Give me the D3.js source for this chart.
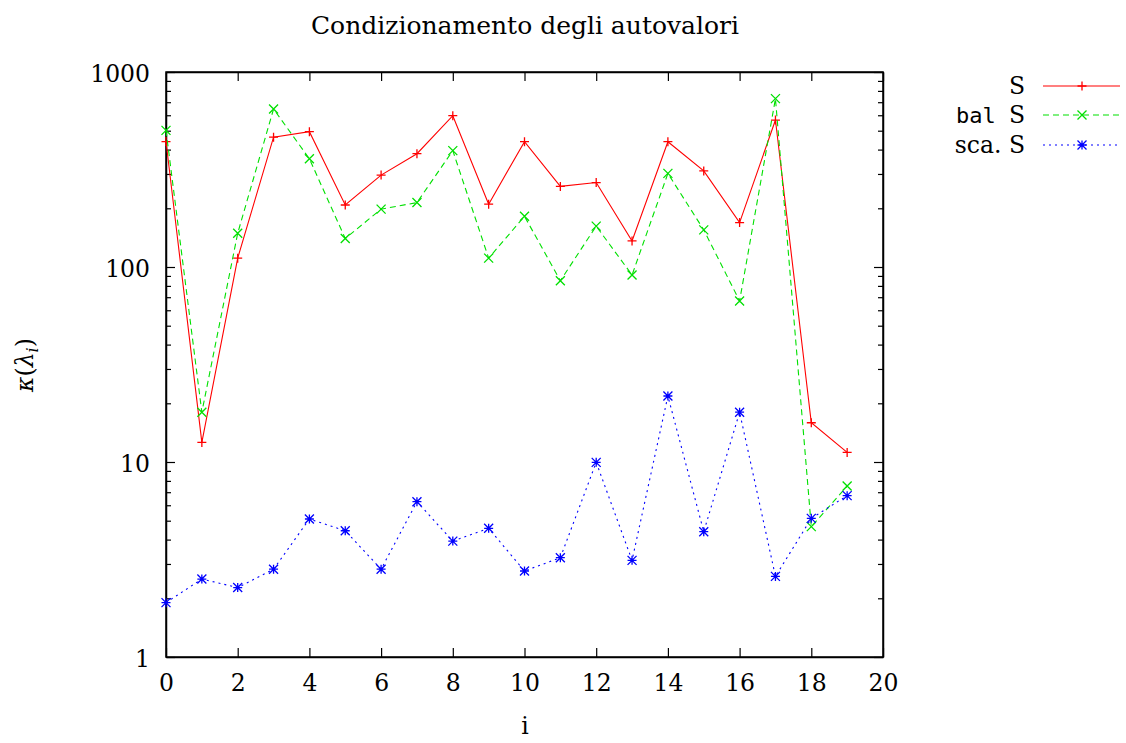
<!DOCTYPE html>
<html lang="it">
<head>
<meta charset="UTF-8">
<title>Condizionamento degli autovalori</title>
<script src="https://cdn.jsdelivr.net/npm/d3@7"></script>
<style>
  body { margin: 0; background: #fff; }
  .axis path, .axis line { stroke: #000; }
  .axis .domain { stroke-width: 1.5; }
  .axis line { stroke-width: 1.2; }
</style>
</head>
<body>
<svg width="1126" height="743"></svg>
<script>
// indici degli autovalori
var idx = d3.range(0, 20);
// kappa(lambda_i) per S, bal S, sca. S
var valS    = [440, 12.6, 111, 463, 494, 208, 296, 381, 597, 210, 439, 259, 271, 136, 439, 311, 169, 567, 15.9, 11.2];
var valBal  = [502, 18.0, 149, 646, 359, 140, 198, 214, 395, 111, 182, 85, 162, 91, 302, 155, 67, 730, 4.66, 7.53];
var valSca  = [1.90, 2.51, 2.27, 2.82, 5.10, 4.44, 2.82, 6.26, 3.93, 4.57, 2.76, 3.23, 9.96, 3.13, 21.8, 4.39, 18.0, 2.59, 5.14, 6.72];
var xTicks  = [0, 2, 4, 6, 8, 10, 12, 14, 16, 18, 20];
var yTicks  = [1, 10, 100, 1000];

var SERIF = "DejaVu Serif";
var MONO = "DejaVu Sans Mono";

var svg = d3.select('svg');
var margin = {left: 166, right: 243, top: 72, bottom: 86};
var W = 1126, H = 743;

var x = d3.scaleLinear().domain([0, 20]).range([margin.left, W - margin.right]);
var y = d3.scaleLog().domain([1, 1000]).range([H - margin.bottom, margin.top]);

// tacche minori (log)
var minor = y.ticks().filter(function (d) { return yTicks.indexOf(d) < 0; });

svg.append('g').attr('class', 'axis')
  .attr('transform', 'translate(' + margin.left + ',0)')
  .call(d3.axisLeft(y).tickValues(minor).tickSize(-5).tickFormat(''))
  .select('.domain').remove();
svg.append('g').attr('class', 'axis')
  .attr('transform', 'translate(' + (W - margin.right) + ',0)')
  .call(d3.axisRight(y).tickValues(minor).tickSize(-5).tickFormat(''))
  .select('.domain').remove();

var yl = svg.append('g').attr('class', 'axis')
  .attr('transform', 'translate(' + margin.left + ',0)')
  .call(d3.axisLeft(y).tickValues(yTicks).tickSize(-9).tickPadding(16).tickSizeOuter(0).tickFormat(d3.format('d')));
svg.append('g').attr('class', 'axis')
  .attr('transform', 'translate(' + (W - margin.right) + ',0)')
  .call(d3.axisRight(y).tickValues(yTicks).tickSize(-9).tickSizeOuter(0).tickFormat(''));

var xl = svg.append('g').attr('class', 'axis')
  .attr('transform', 'translate(0,' + (H - margin.bottom) + ')')
  .call(d3.axisBottom(x).tickValues(xTicks).tickSize(-9).tickPadding(14).tickSizeOuter(0));
svg.append('g').attr('class', 'axis')
  .attr('transform', 'translate(0,' + margin.top + ')')
  .call(d3.axisTop(x).tickValues(xTicks).tickSize(-9).tickSizeOuter(0).tickFormat(''));

svg.selectAll('.axis').attr('font-family', SERIF).attr('font-size', 23.5);
xl.selectAll('text').attr('dy', '0.85em');
yl.selectAll('text').attr('dy', '0.4em');

// cornice
svg.append('rect')
  .attr('x', margin.left).attr('y', margin.top)
  .attr('width', W - margin.left - margin.right)
  .attr('height', H - margin.top - margin.bottom)
  .attr('fill', 'none').attr('stroke', '#000').attr('stroke-width', 1.5);

// marcatori
function marker(g, type, color) {
  var s = 4.5;
  var p = '';
  if (type === 'plus' || type === 'star') p += 'M' + (-s) + ',0H' + s + 'M0,' + (-s) + 'V' + s;
  if (type === 'cross' || type === 'star') p += 'M' + (-s) + ',' + (-s) + 'L' + s + ',' + s + 'M' + (-s) + ',' + s + 'L' + s + ',' + (-s);
  g.append('path').attr('d', p).attr('stroke', color).attr('stroke-width', 1.3).attr('fill', 'none');
}

var series = [
  {vals: valS,   color: '#ff0000', dash: null,  marker: 'plus'},
  {vals: valBal, color: '#00e000', dash: '6,4', marker: 'cross'},
  {vals: valSca, color: '#0000ff', dash: '2,4', marker: 'star'}
];

var line = d3.line()
  .x(function (d, i) { return x(idx[i]); })
  .y(function (d) { return y(d); });

series.forEach(function (s) {
  svg.append('path')
    .attr('d', line(s.vals))
    .attr('fill', 'none')
    .attr('stroke', s.color)
    .attr('stroke-width', 1.1)
    .attr('stroke-dasharray', s.dash);
  s.vals.forEach(function (v, i) {
    var g = svg.append('g').attr('transform', 'translate(' + x(idx[i]) + ',' + y(v) + ')');
    marker(g, s.marker, s.color);
  });
});

// titolo ed etichette
function txt(xp, yp, anchor, size) {
  return svg.append('text').attr('x', xp).attr('y', yp).attr('text-anchor', anchor)
    .attr('font-family', SERIF).attr('font-size', size || 23.5).attr('fill', '#000');
}
txt(525, 34, 'middle', 25).text('Condizionamento degli autovalori');
txt(525, 734, 'middle').text('i');
var yt = svg.append('text').attr('transform', 'translate(33,365) rotate(-90)')
  .attr('text-anchor', 'middle').attr('font-family', SERIF).attr('font-size', 23.5);
yt.append('tspan').attr('font-style', 'italic').text('κ');
yt.append('tspan').text('(');
yt.append('tspan').attr('font-style', 'italic').text('λ');
yt.append('tspan').attr('font-style', 'italic').attr('font-size', 16).attr('dy', 5).text('i');
yt.append('tspan').attr('dy', -5).text(')');

// legenda
var legY = [86, 115, 145];
var legNames = [[null, 'S'], ['bal', 'S'], ['sca.', 'S']];
series.forEach(function (s, k) {
  var t = txt(1025, legY[k] + 8, 'end');
  if (legNames[k][0] === 'bal') {
    t.append('tspan').style('font-family', MONO).style('font-size', '22px').text('bal ');
  } else if (legNames[k][0]) {
    t.append('tspan').text(legNames[k][0] + ' ');
  }
  t.append('tspan').text(legNames[k][1]);
  svg.append('line').attr('x1', 1043).attr('x2', 1120).attr('y1', legY[k]).attr('y2', legY[k])
    .attr('stroke', s.color).attr('stroke-width', 1.1).attr('stroke-dasharray', s.dash);
  var g = svg.append('g').attr('transform', 'translate(1082,' + legY[k] + ')');
  marker(g, s.marker, s.color);
});
</script>
</body>
</html>
